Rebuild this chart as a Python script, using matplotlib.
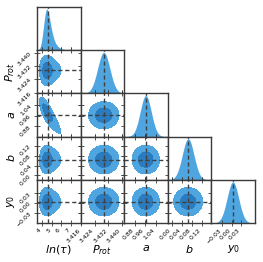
import numpy as np
import matplotlib
matplotlib.use("Agg")
import matplotlib.pyplot as plt

# ---------------- data ----------------
labels = [r"$ln(\tau)$", r"$P_{rot}$", r"$a$", r"$b$", r"$y_0$"]
truths = [4.6, 3.4293, 0.963, 0.064, 0.004]
ranges = [(3.53, 7.93), (3.4155, 3.4415), (0.80, 1.13), (-0.018, 0.158), (-0.062, 0.072)]
ticks = [[4, 5, 6, 7],
         [3.416, 3.424, 3.432, 3.440],
         [0.88, 0.96, 1.04],
         [0.00, 0.04, 0.08, 0.12],
         [-0.03, 0.00, 0.03]]
tick_labels = [["4", "5", "6", "7"],
               ["3.416", "3.424", "3.432", "3.440"],
               ["0.88", "0.96", "1.04"],
               ["0.00", "0.04", "0.08", "0.12"],
               ["\u22120.03", "0.00", "0.03"]]

# marginal posterior shapes (position, relative height)
lntau_x = [3.6, 3.8, 4.0, 4.15, 4.3, 4.45, 4.55, 4.7, 4.85, 5.0, 5.2, 5.4, 5.7, 6.0, 6.5, 7.0]
lntau_h = [0.0, 0.01, 0.18, 0.45, 0.8, 0.98, 1.0, 0.88, 0.65, 0.45, 0.27, 0.15, 0.07, 0.03, 0.01, 0.0]

prot_x = [3.41705, 3.4188, 3.42055, 3.4223, 3.42405, 3.4258, 3.42755, 3.4293,
          3.43105, 3.4328, 3.43455, 3.4363, 3.43805, 3.4398, 3.44155]
prot_h = [0.002, 0.011, 0.044, 0.135, 0.325, 0.607, 0.882, 1.0,
          0.882, 0.607, 0.325, 0.135, 0.044, 0.011, 0.002]

a_x = [0.823, 0.843, 0.863, 0.883, 0.903, 0.923, 0.943, 0.963,
       0.983, 1.003, 1.023, 1.043, 1.063, 1.083, 1.103]
a_h = [0.002, 0.011, 0.044, 0.135, 0.325, 0.607, 0.882, 1.0,
       0.882, 0.607, 0.325, 0.135, 0.044, 0.011, 0.002]

b_x = [-0.0148, -0.0035, 0.0078, 0.019, 0.0303, 0.0415, 0.0528, 0.064,
       0.0753, 0.0865, 0.0978, 0.109, 0.1203, 0.1315, 0.1428]
b_h = [0.002, 0.011, 0.044, 0.135, 0.325, 0.607, 0.882, 1.0,
       0.882, 0.607, 0.325, 0.135, 0.044, 0.011, 0.002]

y0_x = [-0.0555, -0.047, -0.0385, -0.030, -0.0215, -0.013, -0.0045, 0.004,
        0.0125, 0.021, 0.0295, 0.038, 0.0465, 0.055, 0.0635]
y0_h = [0.002, 0.011, 0.044, 0.135, 0.325, 0.607, 0.882, 1.0,
        0.882, 0.607, 0.325, 0.135, 0.044, 0.011, 0.002]

marg_x = [lntau_x, prot_x, a_x, b_x, y0_x]
marg_h = [lntau_h, prot_h, a_h, b_h, y0_h]

# correlation between ln(tau) and a (a shifts with ln(tau))
tau_a_slope = -0.107
tau_a_ref = 4.75
tau_a_width = 0.75

contour_levels = [0.045, 0.42]

# ---------------- style ----------------
c_fill = "#4ea5e0"
c_inner = "#2b7bbf"
c_line = "#404040"
c_frame = "#3a3a3a"

n = 5
fig = plt.figure(figsize=(2.63, 2.62), dpi=100)
fig.subplots_adjust(left=37/263, right=255/263, top=1-7/262, bottom=1-223/262,
                    wspace=0, hspace=0)
axes = fig.subplots(n, n)

NG = 300
kern = np.exp(-0.5 * (np.arange(-24, 25) / 8.0) ** 2)
kern /= kern.sum()


def shape(i, g):
    d = np.interp(g, marg_x[i], marg_h[i], left=0, right=0)
    return np.convolve(d, kern, mode="same")


grids = [np.linspace(r[0], r[1], NG) for r in ranges]

for row in range(n):
    for col in range(n):
        ax = axes[row, col]
        if col > row:
            ax.set_axis_off()
            continue
        for sp in ax.spines.values():
            sp.set_color(c_frame)
            sp.set_linewidth(1.0)
        gx = grids[col]
        if row == col:
            d = shape(col, gx)
            d = d / d.max()
            ax.fill_between(gx, 0, d, color=c_fill, lw=0)
            ax.axvline(truths[col], color=c_line, ls=(0, (3, 2)), lw=1.0)
            ax.set_ylim(0, 1.05)
            ax.set_yticks([])
            ax.tick_params(axis="x", direction="inout", length=5, width=0.6,
                           color=c_frame, top=False, bottom=True)
        else:
            gy = grids[row]
            X, Y = np.meshgrid(gx, gy)
            fx = shape(col, gx)
            if col == 0 and row == 2:
                Z = np.zeros_like(X)
                for j in range(NG):
                    shifted = gy - tau_a_slope * (gx[j] - tau_a_ref)
                    c = truths[2]
                    dcol = np.interp((shifted - c) / tau_a_width + c, a_x, a_h,
                                     left=0, right=0)
                    Z[:, j] = fx[j] * dcol
                Z = np.apply_along_axis(lambda v: np.convolve(v, kern, mode="same"), 0, Z)
            else:
                fy = shape(row, gy)
                Z = np.outer(fy, fx)
            Z = Z / Z.max()
            ax.contourf(X, Y, Z, levels=[contour_levels[0], contour_levels[1], 1.01],
                        colors=[c_fill, c_inner])
            ax.axvline(truths[col], color=c_line, ls=(0, (3, 2)), lw=1.0)
            ax.axhline(truths[row], color=c_line, ls=(0, (3, 2)), lw=1.0)
            ax.set_ylim(*ranges[row])
            ax.set_yticks(ticks[row])
            ax.tick_params(direction="inout", length=5, width=0.6, color=c_frame,
                           top=True, right=True, bottom=True, left=True)
        ax.set_xlim(*ranges[col])
        ax.set_xticks(ticks[col])

        if row == n - 1:
            ax.set_xticklabels(tick_labels[col], rotation=45, ha="right",
                               fontsize=4.4)
            ax.set_xlabel(labels[col], fontsize=8)
            ax.xaxis.set_label_coords(0.5, -0.47)
        else:
            ax.set_xticklabels([])
        if col == 0 and row > 0:
            ax.set_yticklabels(tick_labels[row], rotation=45, fontsize=4.4)
            ax.set_ylabel(labels[row], fontsize=8)
            ax.yaxis.set_label_coords(-0.47, 0.5)
        elif row != col:
            ax.set_yticklabels([])
        ax.tick_params(pad=0.8)

fig.savefig("out.png", dpi=100)
